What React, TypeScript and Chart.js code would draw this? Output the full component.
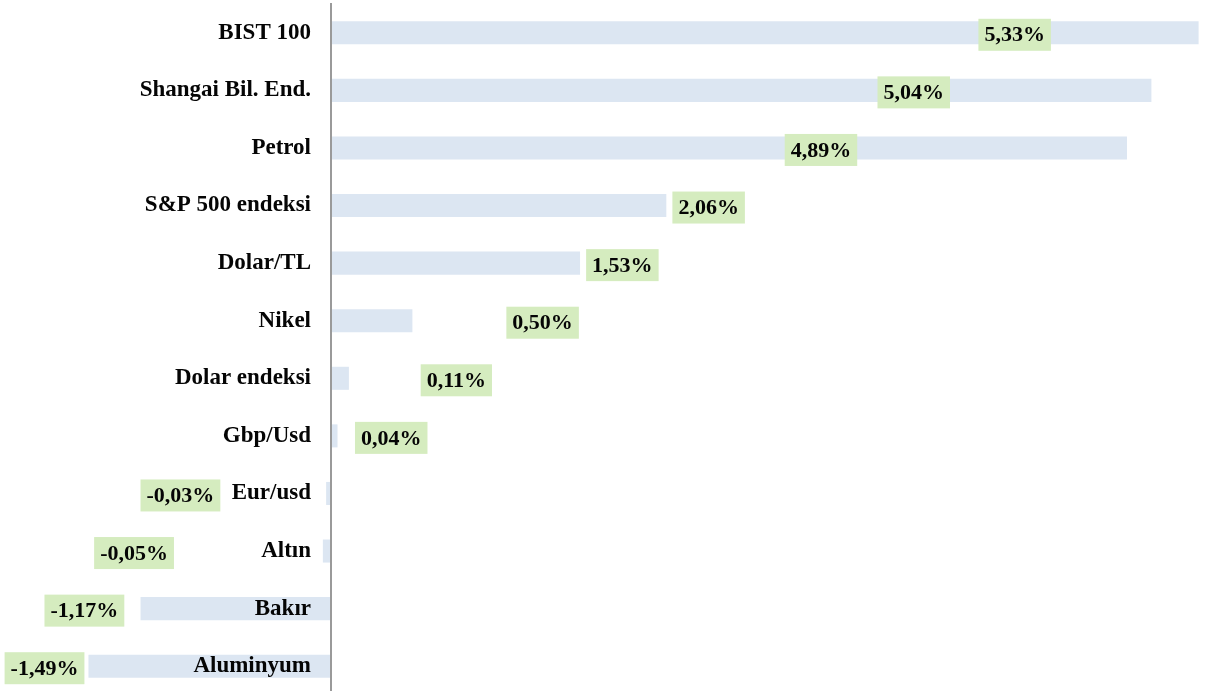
import { useEffect, useRef } from "react";
import { Chart, registerables } from "chart.js";

Chart.register(...registerables);

const categories = [
  "BIST 100",
  "Shangai Bil. End.",
  "Petrol",
  "S&P 500 endeksi",
  "Dolar/TL",
  "Nikel",
  "Dolar endeksi",
  "Gbp/Usd",
  "Eur/usd",
  "Altın",
  "Bakır",
  "Aluminyum",
];
const changes = [5.33, 5.04, 4.89, 2.06, 1.53, 0.5, 0.11, 0.04, -0.03, -0.05, -1.17, -1.49];
const labelTexts = ["5,33%", "5,04%", "4,89%", "2,06%", "1,53%", "0,50%", "0,11%", "0,04%", "-0,03%", "-0,05%", "-1,17%", "-1,49%"];
// where each value label sits along the value axis (label centre, in %)
const labelCenters = [4.2, 3.58, 3.01, 2.32, 1.79, 1.3, 0.77, 0.37, -0.925, -1.21, -1.515, -1.76];

const FONT = '"Liberation Serif", "Times New Roman", serif';

const boxLabels = {
  id: "boxLabels",
  afterDatasetsDraw(chart: any) {
    const ctx = chart.ctx;
    const meta = chart.getDatasetMeta(0);
    const xs = chart.scales.x;
    ctx.save();
    ctx.font = `bold 22px ${FONT}`;
    meta.data.forEach((bar: any, i: number) => {
      const text = labelTexts[i];
      const w = ctx.measureText(text).width + 12;
      const h = 32;
      const cx = xs.getPixelForValue(labelCenters[i]);
      const cy = bar.y + 2;
      ctx.fillStyle = "#d5ecbf";
      ctx.fillRect(cx - w / 2, cy - h / 2, w, h);
      ctx.fillStyle = "#050505";
      ctx.textAlign = "center";
      ctx.textBaseline = "middle";
      ctx.fillText(text, cx, cy + 1);
    });
    ctx.restore();
  },
};

export default function App() {
  const ref = useRef<HTMLCanvasElement | null>(null);
  useEffect(() => {
    if (!ref.current) return;
    const chart = new Chart(ref.current, {
      type: "bar",
      data: {
        labels: categories,
        datasets: [
          {
            data: changes,
            backgroundColor: "#dce6f2",
            borderWidth: 0,
            barPercentage: 0.4,
            categoryPercentage: 1,
            clip: false as any,
          },
        ],
      },
      options: {
        indexAxis: "y",
        animation: false,
        responsive: false,
        maintainAspectRatio: false,
        layout: { padding: { top: 4, right: 3, bottom: 0, left: 0 } },
        plugins: { legend: { display: false }, tooltip: { enabled: false } },
        scales: {
          x: { display: false, min: 0, max: 5.4 },
          y: {
            position: "left",
            grid: { display: false, drawTicks: false },
            border: { display: true, color: "#9a9a9a", width: 2, z: 1 },
            ticks: {
              z: 1,
              padding: 20,
              color: "#050505",
              font: { family: FONT, size: 23, weight: "bold" },
            },
            afterFit(scale: any) {
              scale.width = 331;
              scale.paddingTop = 0;
              scale.paddingBottom = 0;
            },
          },
        },
      },
      plugins: [boxLabels],
    });
    return () => chart.destroy();
  }, []);
  return (
    <div style={{ position: "fixed", left: 0, top: 0, width: 1213, height: 691, overflow: "hidden", background: "#fff" }}>
      <canvas ref={ref} width={1213} height={695} style={{ display: "block" }} />
    </div>
  );
}
